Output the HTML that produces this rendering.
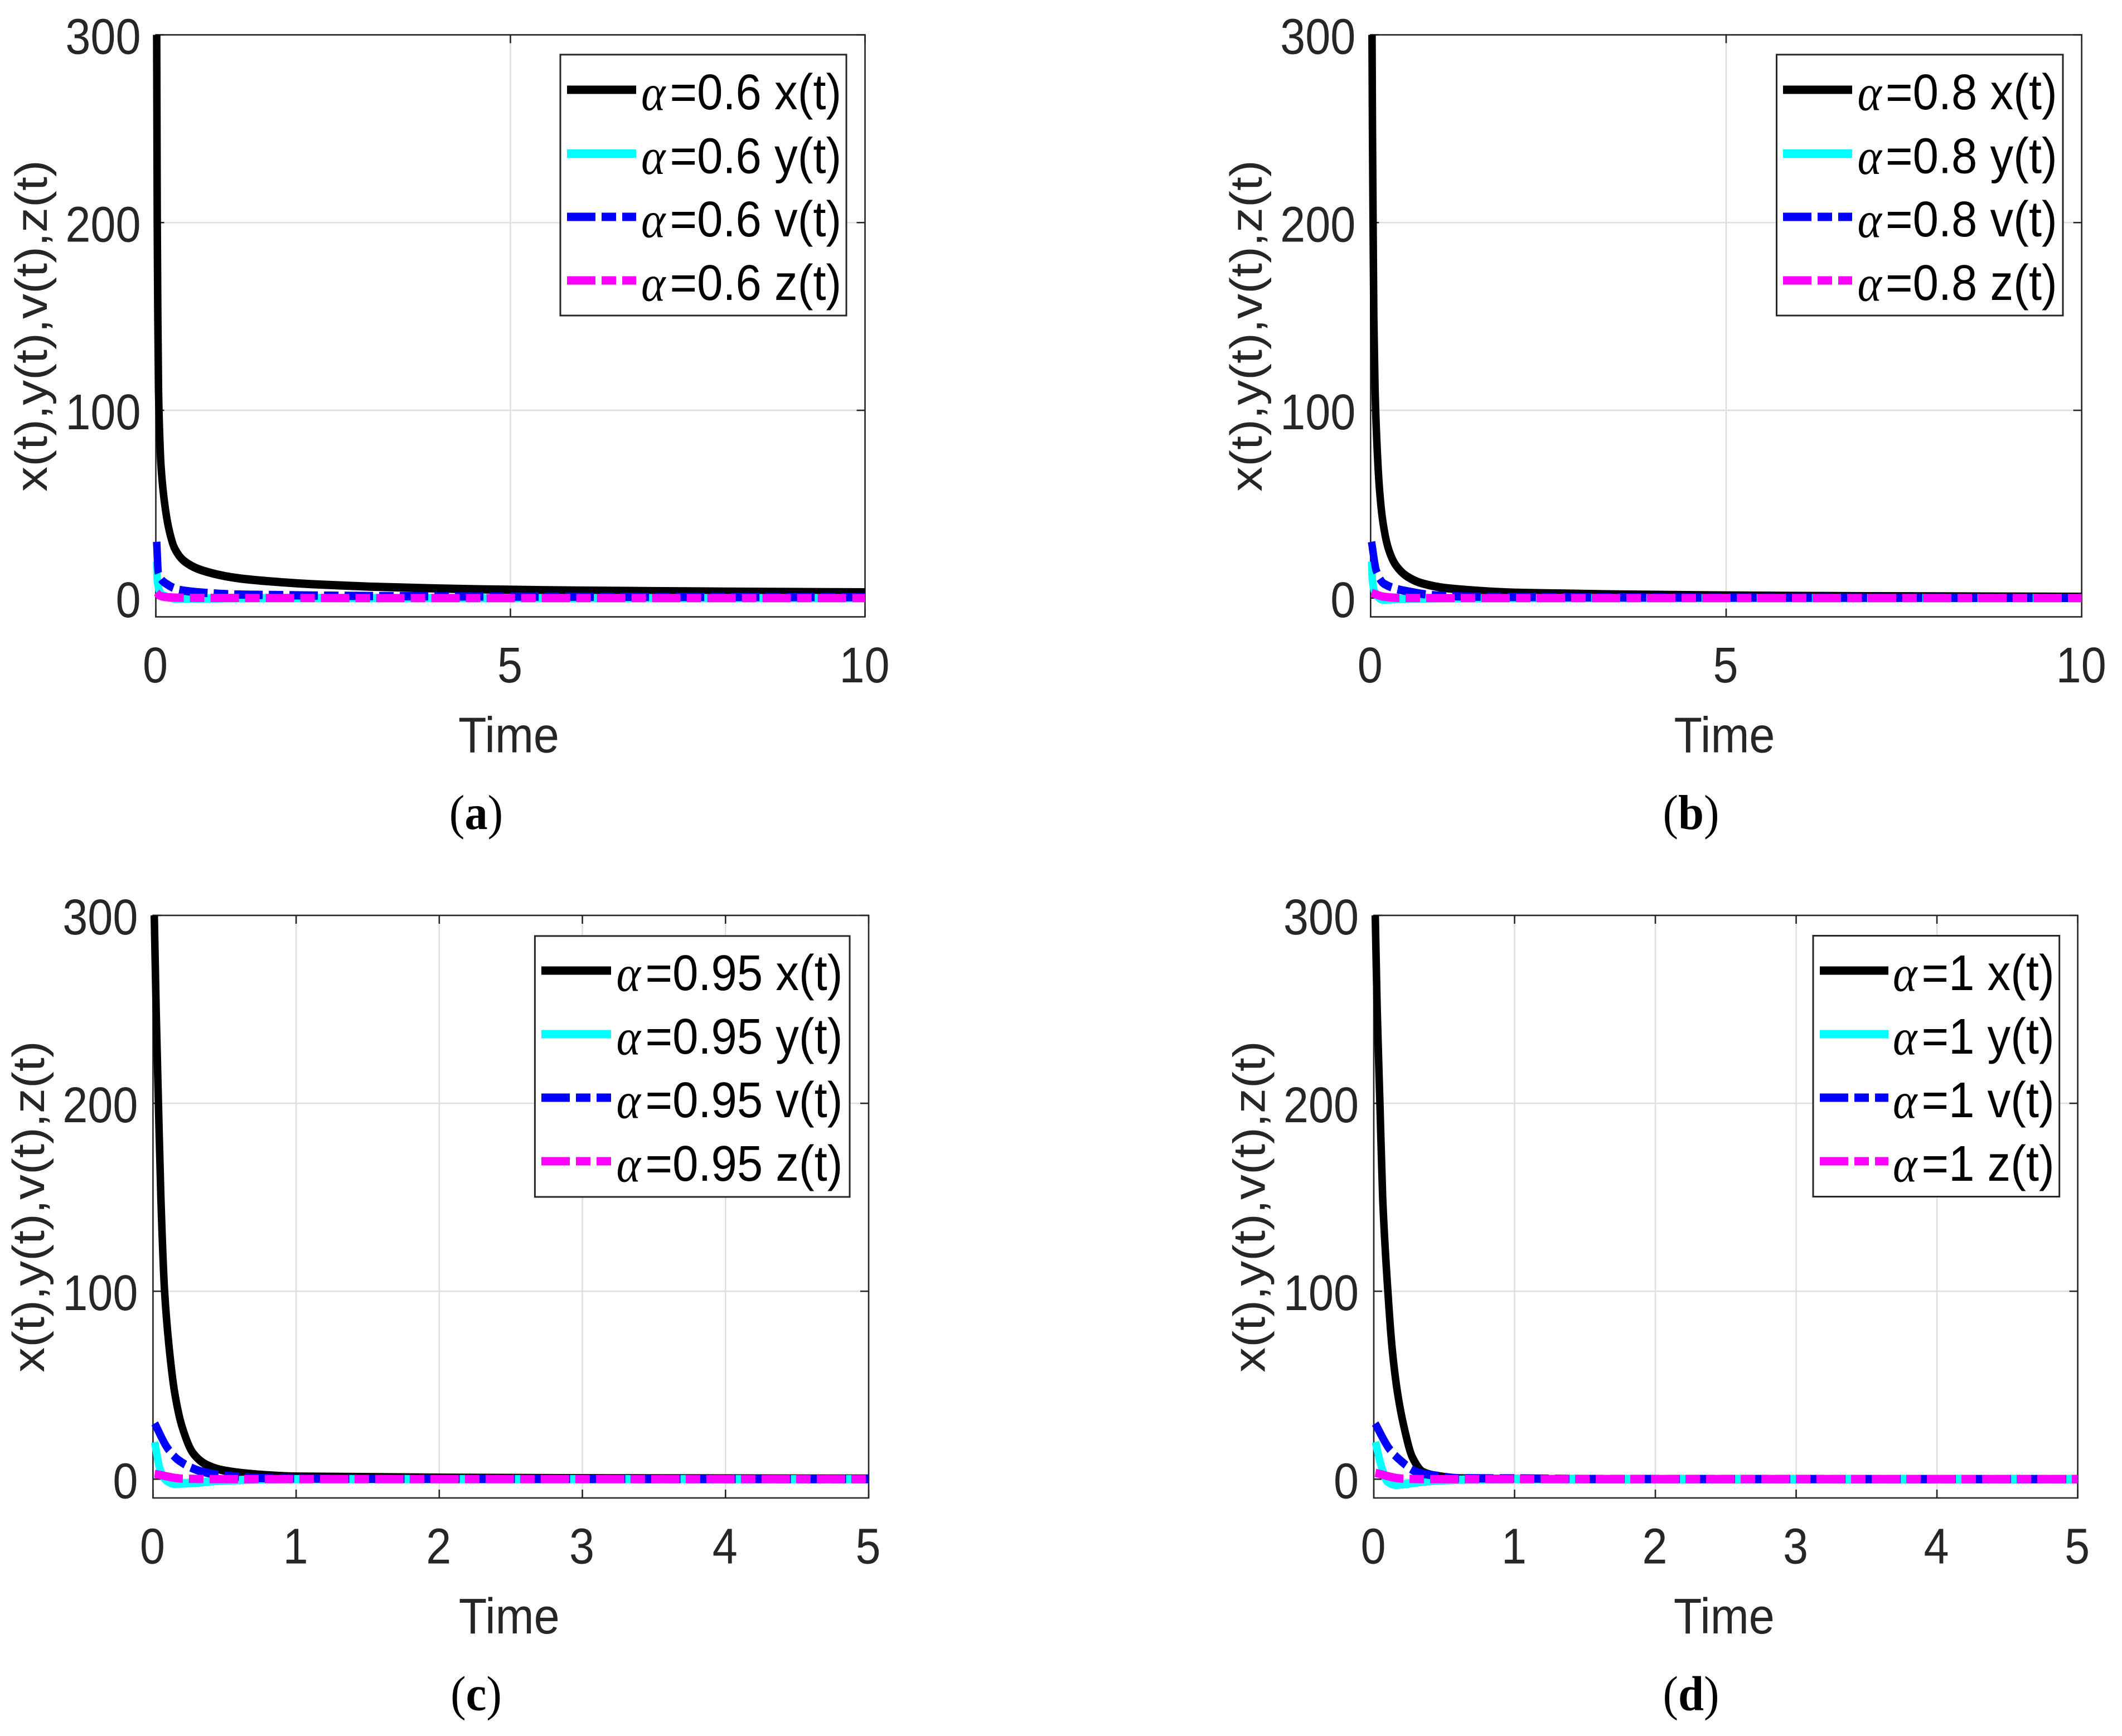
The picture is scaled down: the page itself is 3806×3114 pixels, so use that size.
<!DOCTYPE html>
<html lang="en">
<head>
<meta charset="utf-8">
<title>Fractional order time responses</title>
<style>
html,body{margin:0;padding:0;background:#fff}
svg{display:block}
text{font-family:"Liberation Sans",sans-serif}
</style>
</head>
<body>
<svg id="figure" xmlns="http://www.w3.org/2000/svg" width="3806" height="3114" viewBox="0 0 3806 3114">
<rect x="0" y="0" width="3806" height="3114" fill="#ffffff"/>
</svg>
<script>
// ---- Values ----
const aXTickLabels = ['0', '5', '10'];
const aXTicks = [0, 5, 10];
const cXTickLabels = ['0', '1', '2', '3', '4', '5'];
const cXTicks = [0, 1, 2, 3, 4, 5];
const yTickLabels = ['0', '100', '200', '300'];
const yTicks = [0, 100, 200, 300];

const aLegend = ['=0.6 x(t)', '=0.6 y(t)', '=0.6 v(t)', '=0.6 z(t)'];
const bLegend = ['=0.8 x(t)', '=0.8 y(t)', '=0.8 v(t)', '=0.8 z(t)'];
const cLegend = ['=0.95 x(t)', '=0.95 y(t)', '=0.95 v(t)', '=0.95 z(t)'];
const dLegend = ['=1 x(t)', '=1 y(t)', '=1 v(t)', '=1 z(t)'];

// panel (a), alpha = 0.6
const aTx = [0.012, 0.016, 0.02, 0.028, 0.038, 0.051, 0.072, 0.122, 0.187, 0.265, 0.397, 0.633, 1.157, 1.68, 2.2, 3, 4, 4.88, 6, 7, 8, 9, 10];
const aX  = [300, 250, 200, 150, 110.5, 90.7, 71, 51, 36.3, 26.5, 19.8, 15, 10.6, 8.7, 7.4, 6.1, 5.1, 4.5, 4, 3.7, 3.45, 3.25, 3.05];
const aTy = [0.012, 0.02, 0.05, 0.1, 0.2, 0.3, 0.6, 1, 2, 5, 10];
const aY  = [19.5, 10, 4, 1.5, 0.2, -0.4, -0.3, -0.1, 0, 0, 0];
const aTv = [0.012, 0.035, 0.148, 0.343, 0.71, 1.13, 1.68, 3, 5, 7, 10];
const aV  = [30, 13.5, 7.6, 4.3, 2.76, 1.9, 1.6, 1.1, 0.8, 0.65, 0.5];
const aTz = [0.012, 0.05, 0.15, 0.3, 1, 3, 10];
const aZ  = [3, 1.4, 0.5, 0.2, 0.05, 0, 0];

// panel (b), alpha = 0.8
const bTx = [0.02, 0.026, 0.035, 0.045, 0.062, 0.087, 0.123, 0.17, 0.249, 0.353, 0.51, 0.72, 1.11, 2.15, 3.46, 5, 7, 10];
const bX  = [300, 250, 200, 150, 112, 84, 59, 41.3, 26.5, 17.6, 11.6, 7.9, 5.1, 2.76, 1.96, 1.4, 1, 0.7];
const bTy = [0.015, 0.025, 0.066, 0.17, 0.4, 1, 2, 10];
const bY  = [19.5, 9.6, 2.7, -0.8, -0.5, -0.1, 0, 0];
const bTv = [0.013, 0.08, 0.19, 0.547, 0.93, 1.4, 2.5, 4, 10];
const bV  = [30, 14.6, 7.6, 3.4, 1.4, 0.8, 0.5, 0.3, 0.1];
const bTz = [0.013, 0.19, 0.4, 1, 10];
const bZ  = [2.8, 0.7, 0.1, 0, 0];

// panel (c), alpha = 0.95
const cTx = [0.009, 0.022, 0.038, 0.055, 0.081, 0.113, 0.152, 0.204, 0.282, 0.373, 0.49, 0.723, 1, 2, 3, 5];
const cX  = [300, 250, 200, 150, 100, 69.9, 45.8, 27.7, 13.6, 7.7, 4.7, 2.5, 1.4, 0.8, 0.5, 0.3];
const cTy = [0.012, 0.048, 0.087, 0.146, 0.244, 0.46, 0.9, 2, 5];
const cY  = [19.7, 5.6, -0.3, -2.4, -2.2, -0.9, 0, 0, 0];
const cTv = [0.012, 0.1, 0.175, 0.334, 0.49, 0.8, 1.5, 5];
const cV  = [29.7, 16.7, 10.3, 4.2, 2, 0.5, 0.2, 0];
const cTz = [0.012, 0.204, 0.4, 1, 5];
const cZ  = [2.8, 0.3, 0.05, 0, 0];

// panel (d), alpha = 1
const dTx = [0.0105, 0.024, 0.0436, 0.063, 0.1, 0.13, 0.169, 0.215, 0.274, 0.353, 0.46, 0.59, 1, 2, 5];
const dX  = [300, 250.4, 200, 150, 100, 69.9, 45.8, 27.7, 11.7, 3.65, 1.6, 0.5, 0.1, 0, 0];
const dTy = [0.012, 0.05, 0.095, 0.155, 0.383, 0.66, 1, 5];
const dY  = [19.8, 7.8, -1.2, -3, -1.1, -0.2, 0, 0];
const dTv = [0.01, 0.11, 0.178, 0.322, 0.45, 0.6, 1, 1.5, 5];
const dV  = [29.6, 16.2, 10.7, 3.3, 1.8, 0.5, 0.4, 0.1, 0];
const dTz = [0.012, 0.2, 0.4, 1, 5];
const dZ  = [3.3, 0.3, 0, 0, 0];

// ---- Layout ----
const NS = 'http://www.w3.org/2000/svg';
const svg = document.getElementById('figure');
const INK = '#262626';
const GRID = '#dfdfdf';
const FONT = 90;
const XS = 0.9; // the reference is horizontally condensed
const LEGEND_DASH = '51 11 26 11';
const PATH_DASH = '56.7 12.2 28.9 12.2'; // same dash after the 0.9 horizontal squeeze
const panels = [
  {id:'a', cap:'a', l:279.5, r:1551.5, t:62.5, b:1106.5, xMax:10, xt:aXTicks, xl:aXTickLabels, capX:854,
   lg:{x0:1005, x1:1518, y0:98, y1:566, l0:1017, l1:1141, ax:1150, ex:1201.5, rows:[161,275.5,389,503], text:aLegend},
   s:[[aTx,aX],[aTy,aY],[aTv,aV],[aTz,aZ]]},
  {id:'b', cap:'b', l:2458.3, r:3733.7, t:62.5, b:1106.5, xMax:10, xt:aXTicks, xl:aXTickLabels, capX:3033,
   lg:{x0:3186.5, x1:3700, y0:98, y1:566, l0:3198, l1:3322, ax:3331.5, ex:3382, rows:[161,275.5,389,503], text:bLegend},
   s:[[bTx,bX],[bTy,bY],[bTv,bV],[bTz,bZ]]},
  {id:'c', cap:'c', l:274.4, r:1558, t:1642, b:2687, xMax:5, xt:cXTicks, xl:cXTickLabels, capX:854,
   lg:{x0:959.4, x1:1524, y0:1679, y1:2147, l0:971, l1:1096, ax:1105.5, ex:1157.5, rows:[1741,1855,1969,2083], text:cLegend},
   s:[[cTx,cX],[cTy,cY],[cTv,cV],[cTz,cZ]]},
  {id:'d', cap:'d', l:2464, r:3726.6, t:1642, b:2687, xMax:5, xt:cXTicks, xl:cXTickLabels, capX:3033,
   lg:{x0:3252, x1:3693.7, y0:1678.5, y1:2146.5, l0:3264, l1:3387, ax:3395, ex:3446.5, rows:[1741,1855,1969,2083], text:dLegend},
   s:[[dTx,dX],[dTy,dY],[dTv,dV],[dTz,dZ]]}
];
const seriesNames = ['x', 'y', 'v', 'z'];
const seriesColors = ['#000000', '#00ffff', '#0000ff', '#ff00ff'];
const seriesDashed = [false, false, true, true];

function xAxis(p){ return t => p.l + (t / p.xMax) * (p.r - p.l); }
function yAxis(p){ return v => p.b - ((v + 10) / 310) * (p.b - p.t); }

function make(parent, tag, name, attrs){
  const el = document.createElementNS(NS, tag);
  
  
  for (const k in attrs) el.setAttribute(k, attrs[k]);
  parent.appendChild(el);
  return el;
}
function seg(parent, name, x1, y1, x2, y2, stroke, width){
  return make(parent, 'line', name, {x1, y1, x2, y2, stroke, 'stroke-width': width});
}
function label(parent, name, x, y, str, opts){
  const o = opts || {};
  let tf = 'translate(' + x + ' ' + y + ') scale(' + (o.xs || XS) + ' 1)';
  if (o.rotate) tf += ' rotate(' + o.rotate + ')';
  const el = make(parent, 'text', name, {
    x: 0, y: 0, transform: tf, 'font-size': o.size || FONT,
    fill: o.fill || INK, 'text-anchor': o.anchor || 'start'
  });
  el.textContent = str;
  return el;
}
// monotone cubic path through (px,py), px strictly increasing
function curve(px, py){
  const n = px.length, d = [], m = [];
  for (let i = 0; i < n - 1; i++) d.push((py[i+1] - py[i]) / (px[i+1] - px[i]));
  m[0] = d[0]; m[n-1] = d[n-2];
  for (let i = 1; i < n - 1; i++){
    if (d[i-1] * d[i] <= 0) { m[i] = 0; continue; }
    const h0 = px[i] - px[i-1], h1 = px[i+1] - px[i];
    const w0 = 2 * h1 + h0, w1 = h1 + 2 * h0;
    m[i] = (w0 + w1) / (w0 / d[i-1] + w1 / d[i]);
  }
  let s = 'M' + px[0].toFixed(2) + ' ' + py[0].toFixed(2);
  for (let i = 0; i < n - 1; i++){
    const h = (px[i+1] - px[i]) / 3;
    s += 'C' + (px[i] + h).toFixed(2) + ' ' + (py[i] + m[i] * h).toFixed(2) + ' ' +
         (px[i+1] - h).toFixed(2) + ' ' + (py[i+1] - m[i+1] * h).toFixed(2) + ' ' +
         px[i+1].toFixed(2) + ' ' + py[i+1].toFixed(2);
  }
  return s;
}

panels.forEach(p => {
  const sx = xAxis(p), sy = yAxis(p);
  const g = make(svg, 'g', 'panel-' + p.id, {});

  // grid
  const grid = make(g, 'g', 'grid-' + p.id, {});
  p.xt.forEach(t => {
    seg(grid, 'grid-vertical', sx(t), p.t, sx(t), p.b, GRID, 2.5);
  });
  yTicks.forEach(v => {
    seg(grid, 'grid-horizontal', p.l, sy(v), p.r, sy(v), GRID, 2.5);
  });

  // ticks
  const ticks = make(g, 'g', 'ticks-' + p.id, {});
  p.xt.forEach(t => {
    seg(ticks, 'x-tick-bottom', sx(t), p.b, sx(t), p.b - 15, INK, 2.6);
    seg(ticks, 'x-tick-top', sx(t), p.t, sx(t), p.t + 15, INK, 2.6);
  });
  yTicks.forEach(v => {
    seg(ticks, 'y-tick-left', p.l, sy(v), p.l + 15, sy(v), INK, 2.6);
    seg(ticks, 'y-tick-right', p.r, sy(v), p.r - 15, sy(v), INK, 2.6);
  });

  // axes box
  make(g, 'rect', 'axes-box-' + p.id, {
    x: p.l, y: p.t, width: p.r - p.l, height: p.b - p.t,
    fill: 'none', stroke: INK, 'stroke-width': 2.6
  });

  // series (drawn in a 0.9 horizontally squeezed space so the pen is anisotropic like the reference)
  p.s.forEach((pair, i) => {
    const attrs = {
      d: curve(pair[0].map(t => sx(t) / XS), pair[1].map(sy)),
      transform: 'scale(' + XS + ' 1)',
      fill: 'none', stroke: seriesColors[i], 'stroke-width': 15,
      'stroke-linejoin': 'round', 'stroke-linecap': 'butt'
    };
    if (seriesDashed[i]) attrs['stroke-dasharray'] = PATH_DASH;
    make(g, 'path', 'series-' + seriesNames[i] + '-' + p.id, attrs);
  });

  // tick labels
  p.xl.forEach((txt, i) => {
    label(g, 'x-tick-label', sx(p.xt[i]) - 1, p.b + 117.5, txt, {anchor: 'middle'});
  });
  yTickLabels.forEach((txt, i) => {
    label(g, 'y-tick-label', p.l - 27, sy(yTicks[i]) + 34, txt, {anchor: 'end'});
  });

  // axis titles
  label(g, 'x-axis-title', (p.l + p.r) / 2 - 3, p.b + 243, 'Time', {anchor: 'middle', xs: 0.92});
  label(g, 'y-axis-title', p.l - 195.5, (p.t + p.b) / 2, 'x(t),y(t),v(t),z(t)', {anchor: 'middle', rotate: -90});

  // legend
  const L = p.lg;
  const lg = make(g, 'g', 'legend-' + p.id, {});
  make(lg, 'rect', 'legend-box', {
    x: L.x0, y: L.y0, width: L.x1 - L.x0, height: L.y1 - L.y0,
    fill: '#ffffff', stroke: INK, 'stroke-width': 3
  });
  L.rows.forEach((ly, i) => {
    const entry = make(lg, 'g', 'legend-entry', {});
    const attrs = {x1: L.l0, y1: ly, x2: L.l1, y2: ly, stroke: seriesColors[i], 'stroke-width': 15};
    if (seriesDashed[i]) attrs['stroke-dasharray'] = LEGEND_DASH;
    make(entry, 'line', 'legend-line-' + seriesNames[i], attrs);
    const alpha = label(entry, 'legend-alpha', L.ax, ly + 36.5, 'α', {fill: '#000000', size: 92});
    alpha.setAttribute('style', 'font-family:"Liberation Serif",serif;font-style:italic');
    label(entry, 'legend-text', L.ex, ly + 35, L.text[i], {fill: '#000000', xs: 0.925});
  });

  // caption
  const capY = p.b + 380.5;
  const cap = make(g, 'text', 'panel-caption-' + p.id, {
    x: 0, y: 0, transform: 'translate(' + p.capX + ' ' + capY + ') scale(0.94 1)',
    'font-size': 88, fill: '#000000', 'text-anchor': 'middle'
  });
  cap.setAttribute('style', 'font-family:"Liberation Serif",serif');
  const o = document.createElementNS(NS, 'tspan');
  o.textContent = '(';
  cap.appendChild(o);
  const b = document.createElementNS(NS, 'tspan');
  b.setAttribute('font-weight', 'bold');
  b.textContent = p.cap;
  cap.appendChild(b);
  const c = document.createElementNS(NS, 'tspan');
  c.textContent = ')';
  cap.appendChild(c);
});
</script>
</body>
</html>
